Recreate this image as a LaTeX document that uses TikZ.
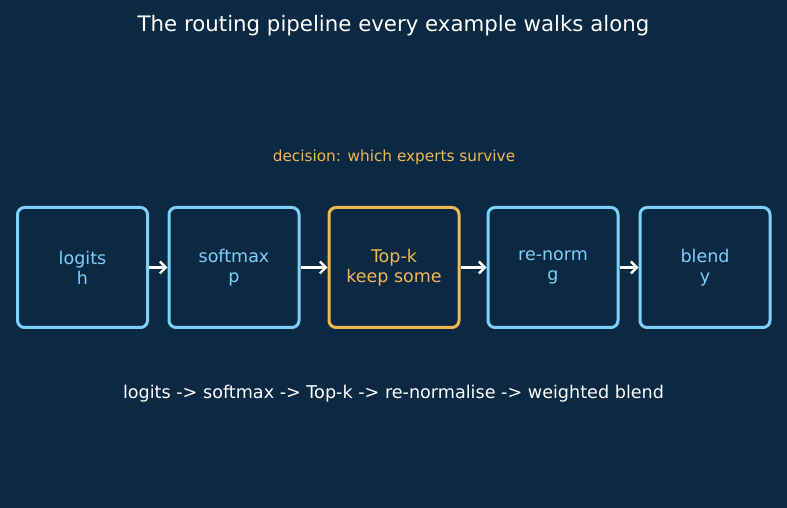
\documentclass[tikz,border=0pt]{standalone}
\usepackage{fontspec}
\setmainfont{DejaVu Sans}
\usepackage{tikz}
\usetikzlibrary{arrows.meta, positioning}
\definecolor{NightBlue}{RGB}{11, 41, 66}
\definecolor{SkyLine}{RGB}{125, 208, 250}
\definecolor{AmberLine}{RGB}{240, 184, 84}
\tikzset{
  stage/.style={rectangle, rounded corners=7pt, minimum width=130pt,
    minimum height=120pt, align=center, line width=3pt, draw=SkyLine,
    fill=NightBlue, font=\fontsize{17.5}{20}\selectfont, text=SkyLine},
  pick/.style={stage, draw=AmberLine, text=AmberLine},
  flow/.style={-{Straight Barb[length=6pt, width=12pt]}, line width=2.4pt,
    color=white},
}

\begin{document}
\begin{tikzpicture}[x=1pt, y=1pt]
  \fill[NightBlue] (0,0) rectangle (787,508);
  \useasboundingbox (0,0) rectangle (787,508);
  \node[text=white, font=\fontsize{21.3}{24}\selectfont] (title) at (393.5,482.5)
    {The routing pipeline every example walks along};
  % the five stages
  \node[stage] (logits) at (82.5,240.5) {logits\\h};
  \node[stage] (softmax) at (234,240.5) {softmax\\p};
  \node[pick] (topk) at (394,240.5) {Top-k\\keep some};
  \node[stage] (renorm) at (553,240.5) {re-norm\\g};
  \node[stage] (blend) at (705,240.5) {blend\\y};
  \draw[flow] (logits) -- (softmax);
  \draw[flow] (softmax) -- (topk);
  \draw[flow] (topk) -- (renorm);
  \draw[flow] (renorm) -- (blend);
  \node[text=AmberLine, font=\fontsize{15.3}{18}\selectfont] (note) at (394,351)
    {decision: which experts survive};
  \node[text=white, font=\fontsize{17.6}{20}\selectfont] (summary) at (393.5,114.5)
    {logits -> softmax -> Top-k -> re-normalise -> weighted blend};
\end{tikzpicture}
\end{document}
